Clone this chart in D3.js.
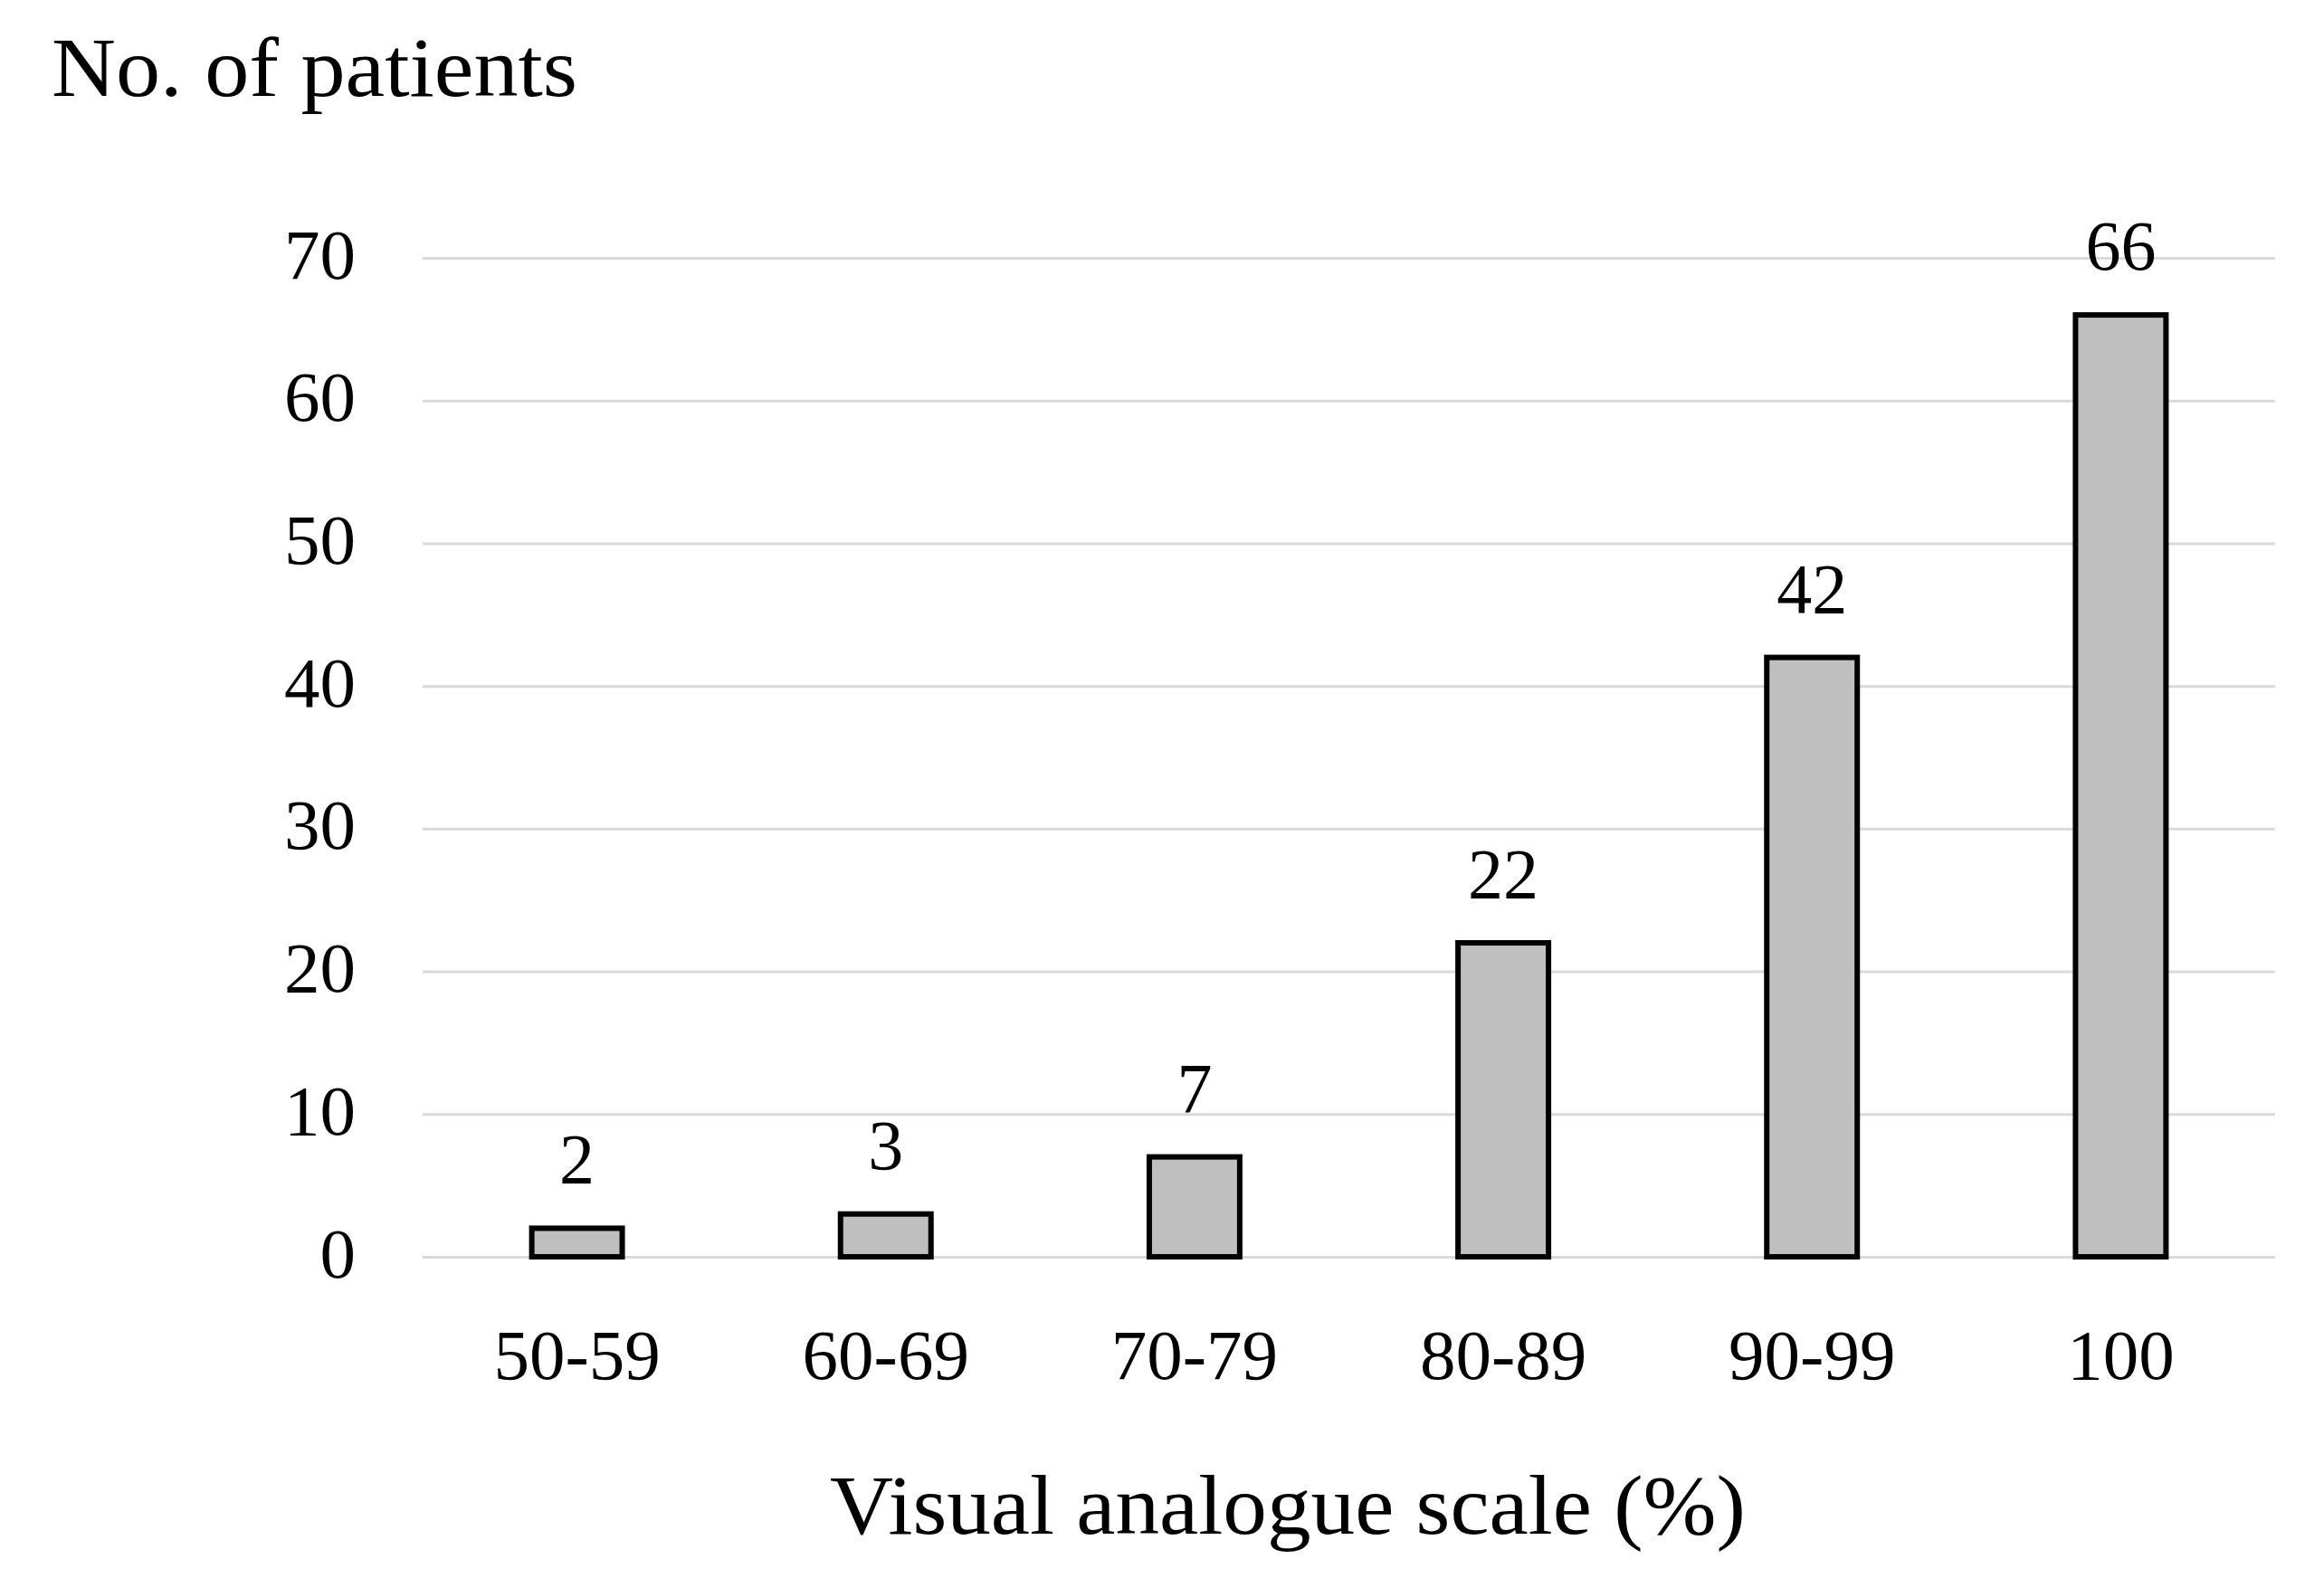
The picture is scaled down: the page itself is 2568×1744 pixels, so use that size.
<!DOCTYPE html>
<html>
<head>
<meta charset="utf-8">
<script src="https://cdn.jsdelivr.net/npm/d3@7"></script>
<style>
  html, body { margin: 0; padding: 0; background: #fff; }
  svg { display: block; }
  text { font-family: "Liberation Serif", "Times New Roman", serif; fill: #000; }
</style>
</head>
<body>
<svg id="chart" width="2568" height="1744"></svg>
<script>
const categories = ["50-59", "60-69", "70-79", "80-89", "90-99", "100"];
const patients = [2, 3, 7, 22, 42, 66];
const yTicks = [0, 10, 20, 30, 40, 50, 60, 70];
const yTitle = "No. of patients";
const xTitle = "Visual analogue scale (%)";

const svg = d3.select("#chart");
const margin = { left: 467, right: 2568 - 2514, top: 285, bottom: 1744 - 1389 };
const W = 2568, H = 1744;

const x = d3.scaleBand().domain(categories).range([margin.left, W - margin.right]).paddingInner(0.707).paddingOuter(0.3535);
const y = d3.scaleLinear().domain([0, 70]).range([H - margin.bottom, margin.top]);

// Gridlines + y tick labels
const yAxis = svg.append("g")
  .attr("transform", `translate(${margin.left},0)`)
  .call(d3.axisLeft(y).tickValues(yTicks).tickSize(-(W - margin.left - margin.right)).tickPadding(74).tickFormat(d3.format("d")));
yAxis.select(".domain").remove();
yAxis.selectAll(".tick line").attr("stroke", "#d9d9d9").attr("stroke-width", 3);
yAxis.selectAll(".tick text").attr("font-size", 79).attr("font-family", "Liberation Serif").attr("fill", "#000").attr("dy", "0.28em");

// Bars
svg.append("g").selectAll("rect")
  .data(categories.map((c, i) => ({ c, v: patients[i] })))
  .join("rect")
  .attr("x", d => x(d.c))
  .attr("width", x.bandwidth())
  .attr("y", d => y(d.v))
  .attr("height", d => y(0) - y(d.v))
  .attr("fill", "#bfbfbf")
  .attr("stroke", "#000")
  .attr("stroke-width", 6);

// Data labels
svg.append("g").selectAll("text")
  .data(categories.map((c, i) => ({ c, v: patients[i] })))
  .join("text")
  .attr("x", d => x(d.c) + x.bandwidth() / 2)
  .attr("y", d => y(d.v) - 50)
  .attr("text-anchor", "middle")
  .attr("font-size", 78)
  .text(d => d.v);

// X axis labels
const xAxis = svg.append("g")
  .attr("transform", `translate(0,${y(0)})`)
  .call(d3.axisBottom(x).tickSize(0).tickPadding(0));
xAxis.select(".domain").remove();
xAxis.selectAll(".tick text")
  .attr("font-size", 79).attr("font-family", "Liberation Serif").attr("fill", "#000")
  .attr("dy", 0).attr("y", 135);

// Titles
svg.append("text")
  .attr("x", 57).attr("y", 106)
  .attr("font-size", 94)
  .attr("textLength", 581).attr("lengthAdjust", "spacingAndGlyphs")
  .text(yTitle);

svg.append("text")
  .attr("x", 917).attr("y", 1695)
  .attr("font-size", 94)
  .attr("textLength", 1012).attr("lengthAdjust", "spacingAndGlyphs")
  .text(xTitle);
</script>
</body>
</html>
